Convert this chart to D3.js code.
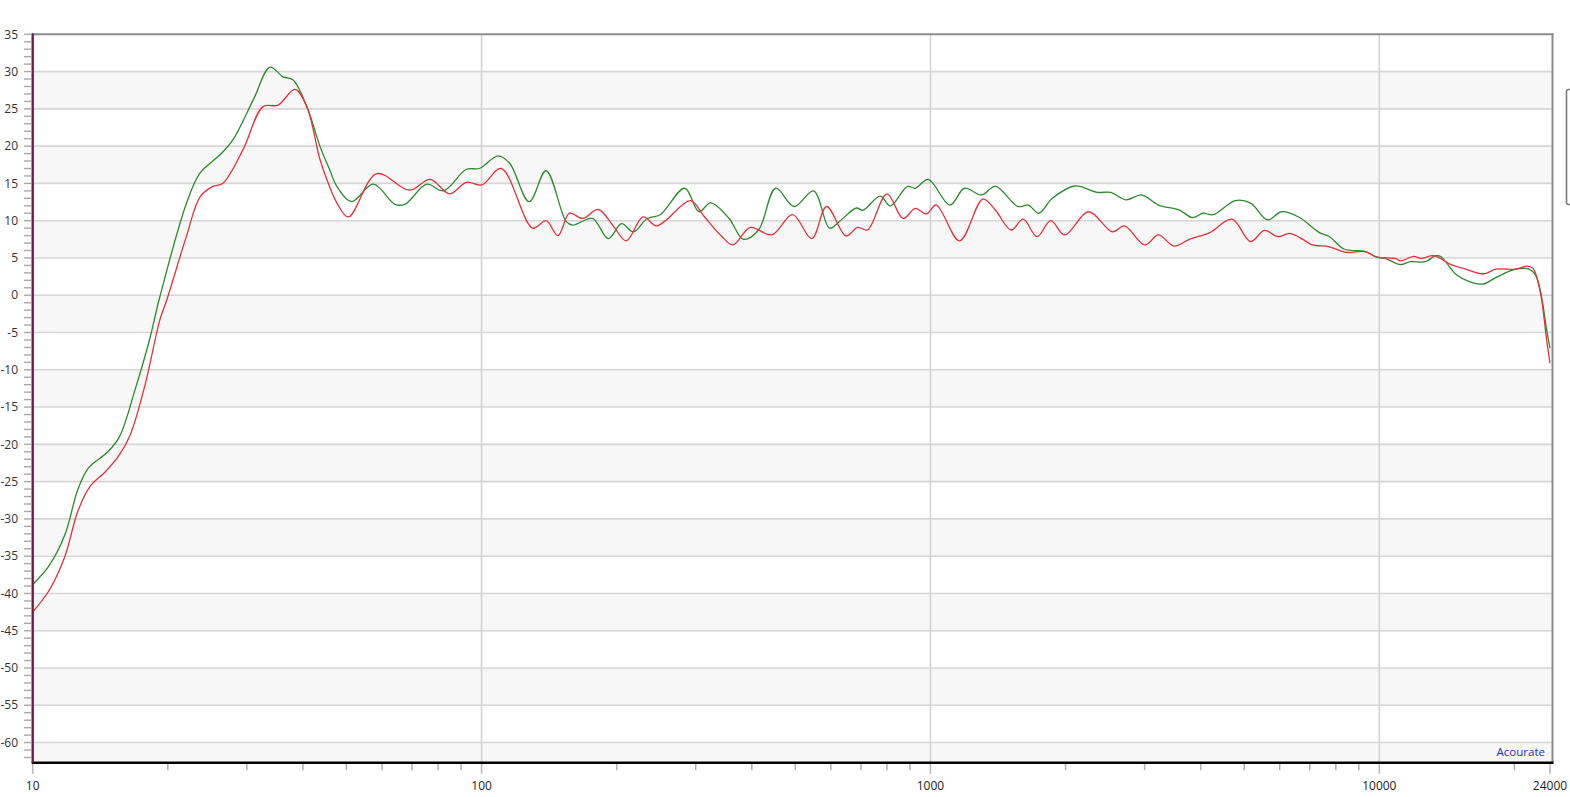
<!DOCTYPE html>
<html>
<head>
<meta charset="utf-8">
<script src="https://cdnjs.cloudflare.com/ajax/libs/d3/7.8.5/d3.min.js"></script>
<style>
html,body{margin:0;padding:0;background:#fff;}
svg{display:block;font-family:"Open Sans","Noto Sans",sans-serif;}
</style>
</head>
<body>
<svg id="chart" width="1570" height="797"></svg>
<script>
// ---- data ----
const yTickValues = [35,30,25,20,15,10,5,0,-5,-10,-15,-20,-25,-30,-35,-40,-45,-50,-55,-60];
const xTickLabels = [10,100,1000,10000,24000];
const xMinorTicks = [20,30,40,50,60,70,80,90,200,300,400,500,600,700,800,900,2000,3000,4000,5000,6000,7000,8000,9000,20000];
const xGridValues = [100,1000,10000];

const freqGreen = [10,10.9,11.8,12.6,13.3,14.7,15.6,16.9,18.2,19.2,22.0,23.6,26.1,27.9,31.0,33.8,36.1,38.0,40.8,43.7,45.9,47.6,51.3,57.4,64.1,67.5,75.5,82.2,92.5,98.9,108.8,115.5,127.7,139.2,154.3,159.5,176.5,191.6,205,218,233.7,250,283.5,305,324,356,383,414,452,497,549,596,627,684,707,773,814,889,925,989,1105,1191,1298,1396,1566,1652,1743,1869,2097,2351,2522,2727,2951,3221,3580,3838,4044,4265,4778,5168,5640,6049,6610,7357,7744,8345,9309,9880,10300,11140,11730,12670,13340,13700,14880,15910,17020,18210,20130,21550,22290,22860,23590,24000];
const dbGreen = [-38.8,-36.2,-32.1,-26.1,-23.2,-21.0,-19.0,-12.7,-6.0,-0.2,12.3,16.4,18.8,20.8,26.2,30.6,29.3,28.9,25.3,19.9,16.8,14.6,12.55,14.9,12.2,12.2,14.9,14.0,16.9,17.0,18.7,17.7,12.55,16.7,9.9,9.4,10.3,7.6,9.6,8.5,10.3,10.8,14.35,11.2,12.4,10.3,7.5,8.75,14.35,11.9,14.0,9.0,9.9,11.7,11.4,13.3,12.0,14.6,14.35,15.55,12.1,14.35,13.45,14.6,11.9,12.1,11.0,13.0,14.65,13.8,13.8,12.8,13.45,12.1,11.45,10.4,11.0,10.8,12.7,12.35,10.1,11.2,10.5,8.4,7.85,6.2,5.85,5.1,4.95,4.1,4.5,4.5,5.3,5.2,2.7,1.8,1.5,2.4,3.5,3.5,2.7,0.5,-4.6,-7.1];

const freqRed = [10,10.9,11.8,12.6,13.4,14.5,15.6,16.5,17.8,19.2,19.9,22.0,23.6,25.2,26.5,29.4,32.6,35.2,38.4,40.8,43.7,45.9,47.6,50.5,58.4,69.1,76.8,84.9,92.5,100.2,110.6,130,139.2,148,157,168,182,197,210,229,245,258,292,313,342,363,397,443,493,544,587,649,688,724,800,869,925,980,1030,1161,1309,1396,1513,1609,1728,1853,1990,2250,2544,2704,3003,3221,3489,3773,4190,4696,5168,5545,5946,6316,6837,7090,7744,8415,9309,9880,10850,11140,11930,12400,13230,14450,15390,17020,18210,20130,21320,22000,22860,23590,24000];
const dbRed = [-42.5,-39.5,-35.0,-29.0,-25.7,-23.7,-21.4,-18.7,-12.0,-3.3,-0.6,7.9,13.2,14.6,15.0,19.5,25.3,25.5,27.6,25.3,18.1,14.5,12.4,10.5,16.3,14.1,15.55,13.6,15.15,14.8,17.0,9.0,10.0,8.0,11.0,10.3,11.5,9.2,7.3,10.5,9.3,10.1,12.7,10.6,7.95,6.75,9.1,8.1,10.8,7.6,11.9,7.95,9.1,8.75,13.6,10.3,11.65,10.9,12.1,7.3,12.9,11.4,8.75,10.2,7.85,10.0,8.1,11.2,8.5,9.3,6.75,8.1,6.6,7.5,8.4,10.2,7.2,8.7,7.85,8.3,7.3,6.75,6.5,5.75,5.85,5.1,4.95,4.6,5.2,4.95,5.3,4.1,3.6,2.85,3.5,3.5,3.9,3.6,0.3,-6.0,-9.1];

// ---- layout ----
const svg = d3.select("#chart");
const pL = 32.7, pR = 1550, pT = 34.3, pB = 762.7, borderR = 1552.5;
const x = d3.scaleLog().domain([10,24000]).range([pL,pR]);
const y = d3.scaleLinear().domain([-62.7,35]).range([pB,pT]);

// bands
const bands = d3.range(-70,35,5).filter(v => ((v % 10) + 10) % 10 === 0);
svg.append("g").selectAll("rect").data(bands).join("rect")
  .attr("x", pL).attr("width", borderR-pL)
  .attr("y", d => y(Math.min(d,35)))
  .attr("height", d => Math.max(0, y(Math.max(d-5,-62.7)) - y(Math.min(d,35))))
  .attr("fill", "#f7f7f7");

// horizontal gridlines
svg.append("g").selectAll("line").data(yTickValues.filter(v => v < 35)).join("line")
  .attr("x1", pL).attr("x2", borderR)
  .attr("y1", d => y(d)).attr("y2", d => y(d))
  .attr("stroke", "#d6d6d6").attr("stroke-width", 1.6);

// vertical gridlines
svg.append("g").selectAll("line").data(xGridValues).join("line")
  .attr("x1", d => x(d)).attr("x2", d => x(d))
  .attr("y1", pT).attr("y2", pB)
  .attr("stroke", "#d3d3d3").attr("stroke-width", 1.6);

// borders
svg.append("line").attr("x1", pL).attr("x2", borderR+1).attr("y1", pT).attr("y2", pT)
  .attr("stroke", "#8c8c8c").attr("stroke-width", 2);
svg.append("line").attr("x1", borderR).attr("x2", borderR).attr("y1", pT-1).attr("y2", pB)
  .attr("stroke", "#8c8c8c").attr("stroke-width", 2);

// y axis ticks (every 1 dB) and labels
const yMinor = d3.range(-62, 36, 1);
svg.append("g").selectAll("line").data(yMinor).join("line")
  .attr("x1", 24).attr("x2", 31)
  .attr("y1", d => y(d)).attr("y2", d => y(d))
  .attr("stroke", "#a8a8a8").attr("stroke-width", 1.4);
svg.append("g").selectAll("text").data(yTickValues).join("text")
  .attr("x", 18).attr("y", d => y(d)).attr("dy", "0.35em")
  .attr("text-anchor", "end").attr("font-size", 12).attr("fill", "#333")
  .text(d => d);

// x ticks
svg.append("g").selectAll("line").data(xMinorTicks).join("line")
  .attr("x1", d => x(d)).attr("x2", d => x(d))
  .attr("y1", pB).attr("y2", pB + 7.5)
  .attr("stroke", "#b0b0b0").attr("stroke-width", 1.5);
svg.append("g").selectAll("line").data(xTickLabels).join("line")
  .attr("x1", d => x(d)).attr("x2", d => x(d))
  .attr("y1", pB).attr("y2", pB + 11)
  .attr("stroke", "#b8b8b8").attr("stroke-width", 1.6);
svg.append("g").selectAll("text").data(xTickLabels).join("text")
  .attr("x", d => x(d)).attr("y", 790)
  .attr("text-anchor", "middle")
  .attr("font-size", 12).attr("fill", "#222")
  .text(d => d);

// curves
const line = d3.line().curve(d3.curveCatmullRom.alpha(0.5));
const ptsG = freqGreen.map((f,i) => [x(f), y(dbGreen[i])]);
const ptsR = freqRed.map((f,i) => [x(f), y(dbRed[i])]);
svg.append("path").attr("d", line(ptsG)).attr("fill","none")
  .attr("stroke", "#2b8a2b").attr("stroke-width", 1.3);
svg.append("path").attr("d", line(ptsR)).attr("fill","none")
  .attr("stroke", "#e5303c").attr("stroke-width", 1.3);

// axis lines
svg.append("line").attr("x1", pL-1).attr("x2", borderR+1).attr("y1", pB).attr("y2", pB)
  .attr("stroke", "#000").attr("stroke-width", 2.4);
svg.append("line").attr("x1", pL).attr("x2", pL).attr("y1", pT-1).attr("y2", pB)
  .attr("stroke", "#7a1845").attr("stroke-width", 2.4);

// watermark
svg.append("text").attr("x", 1545).attr("y", 756).attr("text-anchor","end")
  .attr("font-size", 11.5).attr("fill", "#2a2ac0").text("Acourate");

// cut-off box at right
svg.append("rect").attr("x", 1566.5).attr("y", 89.5).attr("width", 20).attr("height", 115).attr("rx", 2)
  .attr("fill", "none").attr("stroke", "#7a7a7a").attr("stroke-width", 1.6);
</script>
</body>
</html>
